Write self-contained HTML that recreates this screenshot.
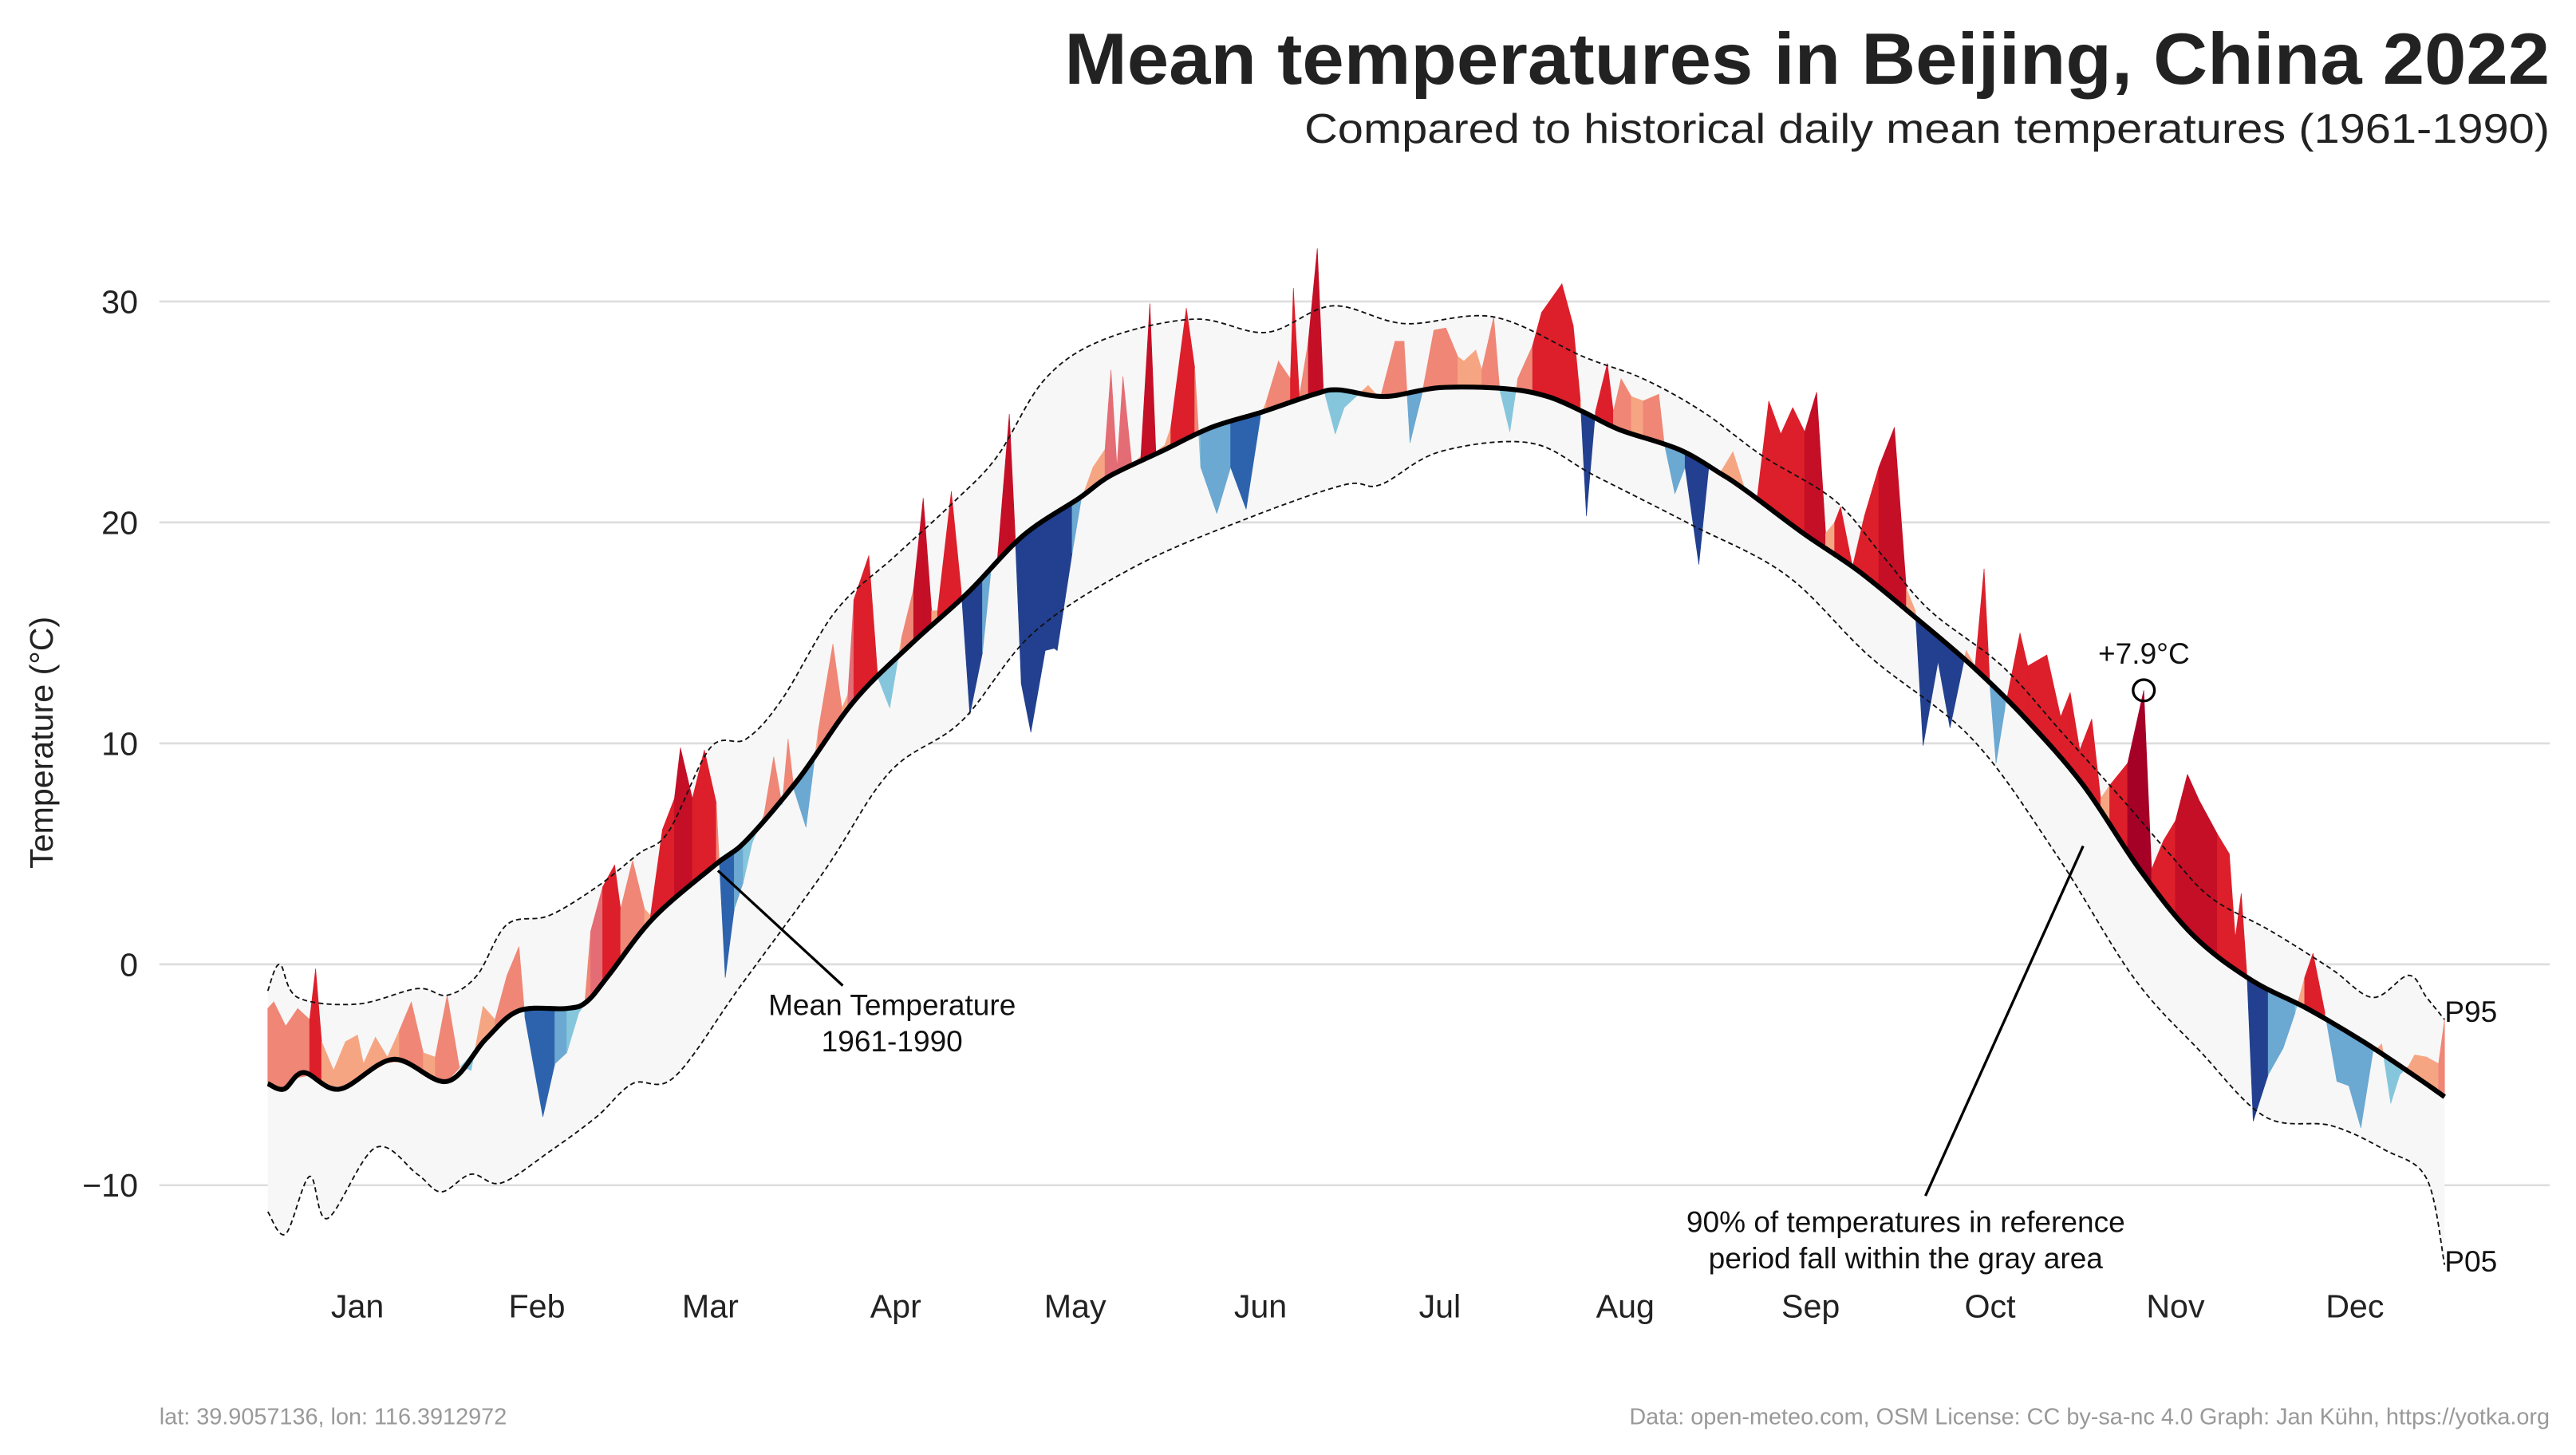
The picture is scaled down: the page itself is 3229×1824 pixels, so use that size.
<!DOCTYPE html>
<html><head><meta charset="utf-8"><title>Mean temperatures in Beijing, China 2022</title>
<style>html,body{margin:0;padding:0;background:#fff;}svg{display:block;font-family:"Liberation Sans",sans-serif;}</style></head>
<body>
<svg id="chart" width="3229" height="1824" viewBox="0 0 1568 885.7" xmlns="http://www.w3.org/2000/svg">
<rect width="1568" height="885.7" fill="#fff"/>
<text x="1552" y="51" text-anchor="end" font-size="44" font-weight="bold" fill="#222" textLength="904" lengthAdjust="spacingAndGlyphs">Mean temperatures in Beijing, China 2022</text>
<text x="1552" y="87" text-anchor="end" font-size="25" fill="#222" textLength="758" lengthAdjust="spacingAndGlyphs">Compared to historical daily mean temperatures (1961-1990)</text>
<g id="grid"></g><g id="band"></g><g id="bars"></g><g id="lines"></g><g id="ann"></g>
<text x="97" y="867" font-size="14" fill="#999">lat: 39.9057136, lon: 116.3912972</text>
<text x="1552" y="867" text-anchor="end" font-size="14" fill="#999">Data: open-meteo.com, OSM  License: CC by-sa-nc 4.0  Graph: Jan Kühn, https://yotka.org</text>
</svg>
<script>
const yTicks = [30, 20, 10, 0, -10];
const months = ["Jan","Feb","Mar","Apr","May","Jun","Jul","Aug","Sep","Oct","Nov","Dec"];
const monthMid = [15,45,74,105,135,166,196,227,258,288,319,349];
const meanDays = [0,2.7,6,12,21,30,36.4,42,50,53.3,57,64.5,74.8,80,88.8,98,107.6,117,126.3,135.7,140.8,149.3,157.8,166.3,175,179,186.8,196,207,214,220,226,236,243,247.4,256.8,266,275.5,285,294,303.6,313,322,331.6,341,350.4,359.8,364];
const meanVals = [-5.4,-5.65,-4.9,-5.65,-4.3,-5.3,-3.4,-2.1,-2.0,-1.7,-0.5,2.1,4.5,5.6,8.4,11.9,14.5,16.8,19.4,21.1,22.1,23.2,24.3,25.0,25.8,26.0,25.7,26.1,26.05,25.7,25.0,24.2,23.3,22.2,21.4,19.5,17.8,15.7,13.5,11.1,8.1,4.3,1.3,-0.7,-2.0,-3.5,-5.2,-6.0];
const p95Days = [0,2,5,15,25,30,35,40,47,55,62,67,74,80,86,95,105,115,122,130,140,155,167,178,190,205,220,230,240,250,262,270,278,290,300,310,318,325,335,345,352,358,361,364];
const p95Vals = [-1.2,0,-1.5,-1.8,-1.1,-1.4,-0.5,1.8,2.2,3.5,5,6,9.8,10.2,12,16,18.5,21,23,26.5,28.3,29.2,28.6,29.8,29,29.3,27.5,26.5,25,23,21,18.5,16,13.5,10.5,7.5,5,3,1.5,-0.2,-1.5,-0.5,-1.5,-2.5];
const p05Days = [0,3,7,10,18,25,29,34,39,47,55,61,68,79,93,104,116,128,145,164,180,186,196,211,222,238,254,268,285,299,312,323,334,345,354,361,364];
const p05Vals = [-11.2,-12.2,-9.6,-11.5,-8.3,-9.5,-10.3,-9.5,-9.9,-8.5,-6.9,-5.4,-5.1,-1,4.2,8.7,11,15,18,20.2,21.7,21.7,23.2,23.6,22.1,19.9,17.6,13.9,10.2,5,-0.6,-3.9,-6.9,-7.3,-8.4,-9.7,-13.6];
const obsDays = [0,1,3,5,7,8,9,11,13,15,16,18,20,22,24,26,28,30,32,34,36,38,40,42,43,46,48,50,52,53,54,56,58,59,61,63,64,66,68,69,71,73,75,76.5,78,79.5,81,83,84.6,86,87,88,90,92,94.5,96,97,98,100.5,102,104,106,108,109.6,111,112,114.3,116,117.4,119.5,121,122,124,125,126,127.6,130,131.5,132,134.5,136,138,140,141,142,143,144.5,146,147.5,148.5,150,151,153.6,155,156,158.7,161,163.6,166,167,169,171,171.5,172.5,174,175.5,176.5,178.5,180,182,184,186,188.5,190,191,193,195,197,199,200,202,203,205,206,207.7,209,211.5,213,216.4,218.3,219.5,220.5,222,224,225,226.3,228,230,232.6,233.5,235.3,237,239.3,241,243,245,247,249,251,253,255,257,259,260.5,262,263,265,267,269.4,272,274,275.5,276.8,279.3,281.3,284,285.5,287,288,289,290.5,293,294.3,297.5,299.8,301.4,303,305,306.5,308,311,313.7,315,317,319,321,323,326,328,329,330,331,332,334.5,337,339,340.6,342,344,346,348,350,352,353.5,355,356.5,358,359,361,363,364];
const obsVals = [-2,-1.7,-2.8,-2.0,-2.5,-0.2,-3.5,-4.8,-3.5,-3.2,-4.5,-3.3,-4.2,-3.0,-1.7,-4.0,-4.2,-1.4,-4.6,-4.8,-1.9,-2.5,-0.5,0.8,-2.4,-6.9,-4.5,-4.0,-2.2,-1.8,1.5,3.5,4.5,2.5,4.7,2.5,2.2,6.1,7.5,9.8,7.5,9.7,7.3,-0.6,2.5,3.7,5.5,6.8,9.4,7.2,10.2,7.9,6.2,10.5,14.5,11.6,12.2,16.5,18.5,13,11.6,14.8,17,21.1,16,16,21.4,16.8,11.3,14.1,18,18.3,24.9,19.3,12.7,10.5,14.2,14.3,14.2,18.6,21,22.5,23.3,26.9,22.5,26.6,22.6,23,29.9,23.2,23.5,24.3,29.7,27,22.5,20.4,22.5,20.6,24.8,25.5,27.3,26.5,30.6,25.7,28.2,32.4,26.1,24,25.2,25.7,26.2,25.6,28.2,28.2,23.6,25.8,28.7,28.8,27.5,27.3,27.8,26.9,29.3,26,24.1,26.5,28,29.5,30.8,28.9,25.5,20.3,25,27.2,25,26.5,25.7,25.5,25.8,23.6,21.3,22.5,18.1,22.6,22.3,23.2,21.5,21,25.5,24,25.2,24.1,25.9,19.5,20,20.7,18,20.3,22.5,24.3,17,16,9.9,13.7,10.7,14.2,13.5,17.9,12.5,9.1,11.6,15,13.5,14,11.2,12.3,9.7,11.1,7.5,8.1,9.1,12.4,4.3,5.6,6.5,8.6,7.4,5.9,5,1.2,3.2,-0.7,-7.1,-5,-3.8,-2.2,-0.6,0.5,-2.2,-5.3,-5.5,-7.4,-4,-3.6,-6.3,-5,-4.6,-4.1,-4.2,-4.5,-2.5];

const NS = "http://www.w3.org/2000/svg";
const X0 = 163, X1 = 1488;
const xs = d => X0 + d * (X1 - X0) / 364;
const ys = t => 587 - t * 13.45;
function interp(days, vals, d) {
  if (d <= days[0]) return vals[0];
  for (let i = 1; i < days.length; i++) if (d <= days[i]) {
    const f = (d - days[i-1]) / (days[i] - days[i-1]);
    return vals[i-1] + f * (vals[i] - vals[i-1]);
  }
  return vals[vals.length-1];
}
function mk(tag, attrs, parent) { const e = document.createElementNS(NS, tag); for (const k in attrs) e.setAttribute(k, attrs[k]); parent.appendChild(e); return e; }
function smoothPath(days, vals) {
  const pts = days.map((d, i) => [xs(d), ys(vals[i])]);
  let s = "M" + pts[0][0] + "," + pts[0][1];
  for (let i = 0; i < pts.length - 1; i++) {
    const p0 = pts[Math.max(0,i-1)], p1 = pts[i], p2 = pts[i+1], p3 = pts[Math.min(pts.length-1,i+2)];
    const c1 = [p1[0] + (p2[0]-p0[0])/6, p1[1] + (p2[1]-p0[1])/6];
    const c2 = [p2[0] - (p3[0]-p1[0])/6, p2[1] - (p3[1]-p1[1])/6];
    s += "C" + c1 + " " + c2 + " " + p2;
  }
  return s;
}
const grid = document.getElementById('grid');
yTicks.forEach(t => {
  const l = mk('line', {x1: 97, x2: 1552, y1: ys(t), y2: ys(t), stroke: '#dedede', 'stroke-width': 1.3}, grid);
  
  
  const tx = mk('text', {x: 84, y: ys(t) + 7, 'text-anchor': 'end', 'font-size': 20, fill: '#222'}, grid);
  tx.textContent = t < 0 ? '\u2212' + Math.abs(t) : String(t);
  
  
});
months.forEach((m, i) => {
  const tx = mk('text', {x: xs(monthMid[i]), y: 802, 'text-anchor': 'middle', 'font-size': 20, fill: '#222'}, grid);
  tx.textContent = m;
  
  
});
const yt = mk('text', {x: 0, y: 0, transform: 'translate(32,452) rotate(-90)', 'text-anchor': 'middle', 'font-size': 20, fill: '#222'}, grid);
yt.textContent = 'Temperature (°C)';



const band = document.getElementById('band');
let bp = smoothPath(p95Days, p95Vals);
const lo = smoothPath(p05Days.slice().reverse(), p05Vals.slice().reverse());
bp += "L" + lo.slice(1);
const bandEl = mk('path', {d: bp + "Z", fill: '#f7f7f7'}, band);



const bars = document.getElementById('bars');
function color(t, m, d) {
  const a = t - m;
  if (a >= 0) {
    const p = interp(p95Days, p95Vals, d);
    if (t > p) return a > 8 ? '#a50026' : (a > 6 ? '#c40f26' : '#dc1f2a');
    return a > 4 ? '#e46c74' : (a > 2 ? '#ef8676' : '#f6a583');
  } else {
    const p = interp(p05Days, p05Vals, d);
    if (t < p) return '#22408f';
    return a < -4 ? '#2d63ad' : (a < -2 ? '#6ba8d2' : '#86c6dc');
  }
}
for (let i = 0; i < obsDays.length - 1; i++) {
  const d0 = obsDays[i], d1 = obsDays[i+1];
  const t0 = obsVals[i], t1 = obsVals[i+1];
  const m0 = interp(meanDays, meanVals, d0), m1 = interp(meanDays, meanVals, d1);
  const a0 = t0 - m0, a1 = t1 - m1;
  const segs = [];
  if (a0 * a1 < 0) {
    const f = a0 / (a0 - a1), dc = d0 + f * (d1 - d0), tc = t0 + f * (t1 - t0);
    segs.push([d0, t0, m0, dc, tc, tc]); segs.push([dc, tc, tc, d1, t1, m1]);
  } else segs.push([d0, t0, m0, d1, t1, m1]);
  segs.forEach(s => {
    const tm = (Math.abs(s[1]-s[2]) > Math.abs(s[4]-s[5])) ? [s[1], s[2], s[0]] : [s[4], s[5], s[3]];
    const col = color(tm[0], tm[1], tm[2]);
    const pth = mk('path', {d: `M${xs(s[0])},${ys(s[2])}L${xs(s[0])},${ys(s[1])}L${xs(s[3])},${ys(s[4])}L${xs(s[3])},${ys(s[5])}Z`, fill: col, stroke: col, 'stroke-width': 0.3}, bars);
    
    
  });
}
const lines = document.getElementById('lines');
const p95 = mk('path', {d: smoothPath(p95Days, p95Vals), fill: 'none', stroke: '#111', 'stroke-width': 0.9, 'stroke-dasharray': '3,2'}, lines);


const p05 = mk('path', {d: smoothPath(p05Days, p05Vals), fill: 'none', stroke: '#111', 'stroke-width': 0.9, 'stroke-dasharray': '3,2'}, lines);


const mean = mk('path', {d: smoothPath(meanDays, meanVals), fill: 'none', stroke: '#000', 'stroke-width': 3}, lines);



const ann = document.getElementById('ann');
function txt(x, y, s, name, anchor) {
  const t = mk('text', {x: x, y: y, 'text-anchor': anchor || 'middle', 'font-size': 18, fill: '#111'}, ann);
  t.textContent = s;
  
  
}
const l1 = mk('line', {x1: 437, y1: 530, x2: 513, y2: 600, stroke: '#000', 'stroke-width': 1.6}, ann);


txt(543, 618, 'Mean Temperature', 'mean-annotation-label');
txt(543, 640, '1961-1990', 'mean-annotation-label');
const l2 = mk('line', {x1: 1268, y1: 515, x2: 1172, y2: 728, stroke: '#000', 'stroke-width': 1.6}, ann);


txt(1160, 750, '90% of temperatures in reference', 'band-annotation-label');
txt(1160, 772, 'period fall within the gray area', 'band-annotation-label');
const c = mk('circle', {cx: xs(313.7), cy: ys(12.4), r: 6.5, fill: 'none', stroke: '#000', 'stroke-width': 1.6}, ann);


txt(1305, 404, '+7.9°C', 'max-anomaly-label');
txt(1488, 622, 'P95', 'p95-label', 'start');
txt(1488, 774, 'P05', 'p05-label', 'start');
</script>
</body></html>
